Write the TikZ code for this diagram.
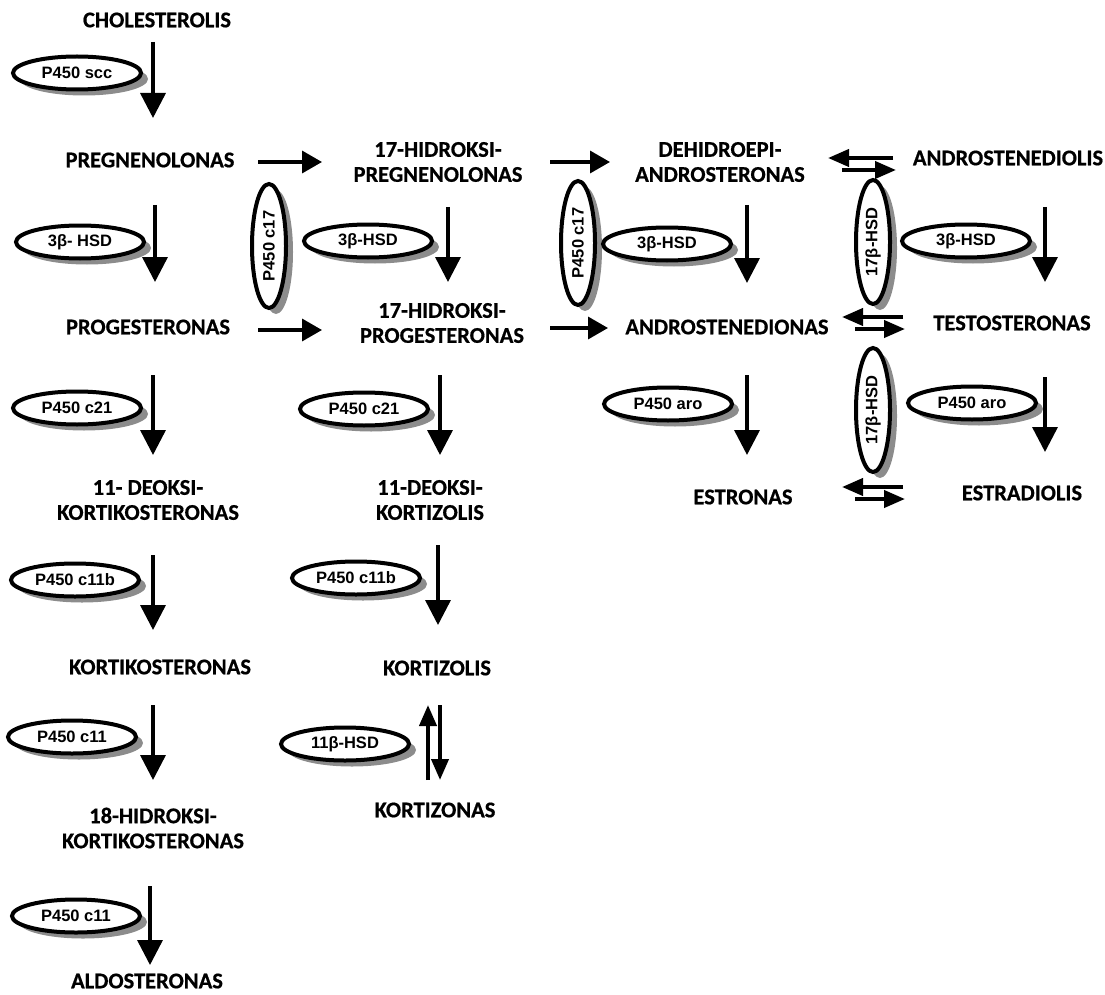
\documentclass[tikz,border=0pt]{standalone}
\usepackage{fontspec}
\usepackage{graphicx}
\setmainfont{Carlito}[BoldFeatures={FakeBold=0.6}]
\newfontfamily\enzfamily{Liberation Sans}
\usetikzlibrary{shapes.geometric,arrows.meta,shadows}

\begin{document}
\begin{tikzpicture}[x=1pt,y=-1pt,
  cmpd/.style={font=\fontsize{22.5}{25}\selectfont\bfseries, align=center, inner sep=0pt},
  enz/.style={ellipse, draw, line width=4pt, fill=white,
    minimum width=128pt, minimum height=33pt, inner sep=0pt,
    font=\enzfamily\fontsize{16.5}{16.5}\selectfont\bfseries,
    drop shadow={shadow xshift=7pt, shadow yshift=-6pt, fill=black!45, opacity=1}},
  venz/.style={enz, minimum width=34pt, minimum height=124pt},
  rxn/.style={line width=3.5pt, -{Triangle[length=25pt,width=25pt]}},
  side/.style={line width=3.5pt, -{Triangle[length=20pt,width=22pt]}},
  rev/.style={line width=4pt, -{Triangle[length=21pt,width=17pt]}}
]
\useasboundingbox (0,0) rectangle (1105,995);

% ---------- compounds ----------
\node[cmpd] (chol)      at (157,20)  {CHOLESTEROLIS};
\node[cmpd] (preg)      at (150,160) {PREGNENOLONAS};
\node[cmpd] (prog)      at (148,327) {PROGESTERONAS};
\node[cmpd] (doc)       at (148,500) {11- DEOKSI-\\KORTIKOSTERONAS};
\node[cmpd] (cort)      at (160,667) {KORTIKOSTERONAS};
\node[cmpd] (ohcort)    at (153,828) {18-HIDROKSI-\\KORTIKOSTERONAS};
\node[cmpd] (aldo)      at (147,981) {ALDOSTERONAS};

\node[cmpd] (ohpreg)    at (438,162) {17-HIDROKSI-\\PREGNENOLONAS};
\node[cmpd] (ohprog)    at (442,323) {17-HIDROKSI-\\PROGESTERONAS};
\node[cmpd] (dcortisol) at (430,500) {11-DEOKSI-\\KORTIZOLIS};
\node[cmpd] (cortisol)  at (437,668) {KORTIZOLIS};
\node[cmpd] (cortisone) at (435,810) {KORTIZONAS};

\node[cmpd] (dhea)      at (720,162) {DEHIDROEPI-\\ANDROSTERONAS};
\node[cmpd] (andione)   at (727,327) {ANDROSTENEDIONAS};
\node[cmpd] (estrone)   at (743,497) {ESTRONAS};

\node[cmpd] (adiol)     at (1008,158) {ANDROSTENEDIOLIS};
\node[cmpd] (testo)     at (1012,323) {TESTOSTERONAS};
\node[cmpd] (estradiol) at (1022,493) {ESTRADIOLIS};

% ---------- enzymes ----------
\node[enz] (scc)    at (77,73)   {P450 scc};
\node[enz] (hsdA)   at (80,242)  {3β- HSD};
\node[enz] (c21A)   at (77,408)  {P450 c21};
\node[enz] (c11bA)  at (75,580)  {P450 c11b};
\node[enz] (c11A)   at (72,737)  {P450 c11};
\node[enz] (c11B)   at (76,916)  {P450 c11};

\node[venz] (c17A)  at (269,246) {\rotatebox{90}{P450 c17}};
\node[enz] (hsdB)   at (368,241) {3β-HSD};
\node[enz] (c21B)   at (364,409) {P450 c21};
\node[enz] (c11bB)  at (356,578) {P450 c11b};
\node[enz] (hsd11)  at (345,744) {11β-HSD};

\node[venz] (c17B)  at (578,243) {\rotatebox{90}{P450 c17}};
\node[enz] (hsdC)   at (667,244) {3β-HSD};
\node[enz] (aroA)   at (668,404) {P450 aro};

\node[venz] (hsd17A) at (873,242) {\rotatebox{90}{17β-HSD}};
\node[enz] (hsdD)    at (966,241) {3β-HSD};
\node[venz] (hsd17B) at (873,410) {\rotatebox{90}{17β-HSD}};
\node[enz] (aroB)    at (972,403) {P450 aro};

% ---------- arrow end points ----------
\coordinate (a1s) at (153,42);   \coordinate (a1e) at (153,118);
\coordinate (a2s) at (155,205);  \coordinate (a2e) at (155,282);
\coordinate (a3s) at (153,375);  \coordinate (a3e) at (153,455);
\coordinate (a4s) at (153,555);  \coordinate (a4e) at (153,630);
\coordinate (a5s) at (153,705);  \coordinate (a5e) at (153,780);
\coordinate (a6s) at (150,886);  \coordinate (a6e) at (150,965);

\coordinate (b1s) at (448,207);  \coordinate (b1e) at (448,282);
\coordinate (b2s) at (440,375);  \coordinate (b2e) at (440,455);
\coordinate (b3s) at (438,545);  \coordinate (b3e) at (438,625);

\coordinate (c1s) at (747,205);  \coordinate (c1e) at (747,283);
\coordinate (c2s) at (747,375);  \coordinate (c2e) at (747,455);

\coordinate (d1s) at (1045,207); \coordinate (d1e) at (1045,282);
\coordinate (d2s) at (1045,377); \coordinate (d2e) at (1045,452);

\coordinate (h1s) at (258,162);  \coordinate (h1e) at (322,162);
\coordinate (h2s) at (258,330);  \coordinate (h2e) at (322,330);
\coordinate (h3s) at (550,162);  \coordinate (h3e) at (610,162);
\coordinate (h4s) at (550,328);  \coordinate (h4e) at (608,328);

% ---------- main reaction arrows ----------
\draw[rxn] (a1s) -- (a1e);
\draw[rxn] (a2s) -- (a2e);
\draw[rxn] (a3s) -- (a3e);
\draw[rxn] (a4s) -- (a4e);
\draw[rxn] (a5s) -- (a5e);
\draw[rxn] (a6s) -- (a6e);
\draw[rxn] (b1s) -- (b1e);
\draw[rxn] (b2s) -- (b2e);
\draw[rxn] (b3s) -- (b3e);
\draw[rxn] (c1s) -- (c1e);
\draw[rxn] (c2s) -- (c2e);
\draw[rxn] (d1s) -- (d1e);
\draw[rxn] (d2s) -- (d2e);

\draw[side] (h1s) -- (h1e);
\draw[side] (h2s) -- (h2e);
\draw[side] (h3s) -- (h3e);
\draw[side] (h4s) -- (h4e);

% ---------- reversible steps ----------
\coordinate (r1a) at (893,158); \coordinate (r1b) at (828,158);
\coordinate (r1c) at (842,170); \coordinate (r1d) at (896,170);
\draw[rev] (r1a) -- (r1b);
\draw[rev] (r1c) -- (r1d);

\coordinate (r2a) at (903,317); \coordinate (r2b) at (842,317);
\coordinate (r2c) at (855,329); \coordinate (r2d) at (905,329);
\draw[rev] (r2a) -- (r2b);
\draw[rev] (r2c) -- (r2d);

\coordinate (r3a) at (903,487); \coordinate (r3b) at (842,487);
\coordinate (r3c) at (855,499); \coordinate (r3d) at (905,499);
\draw[rev] (r3a) -- (r3b);
\draw[rev] (r3c) -- (r3d);

\coordinate (vua) at (428,780); \coordinate (vub) at (428,705);
\coordinate (vda) at (440,705); \coordinate (vdb) at (440,780);
\draw[rev] (vua) -- (vub);
\draw[rev] (vda) -- (vdb);

\end{tikzpicture}
\end{document}
